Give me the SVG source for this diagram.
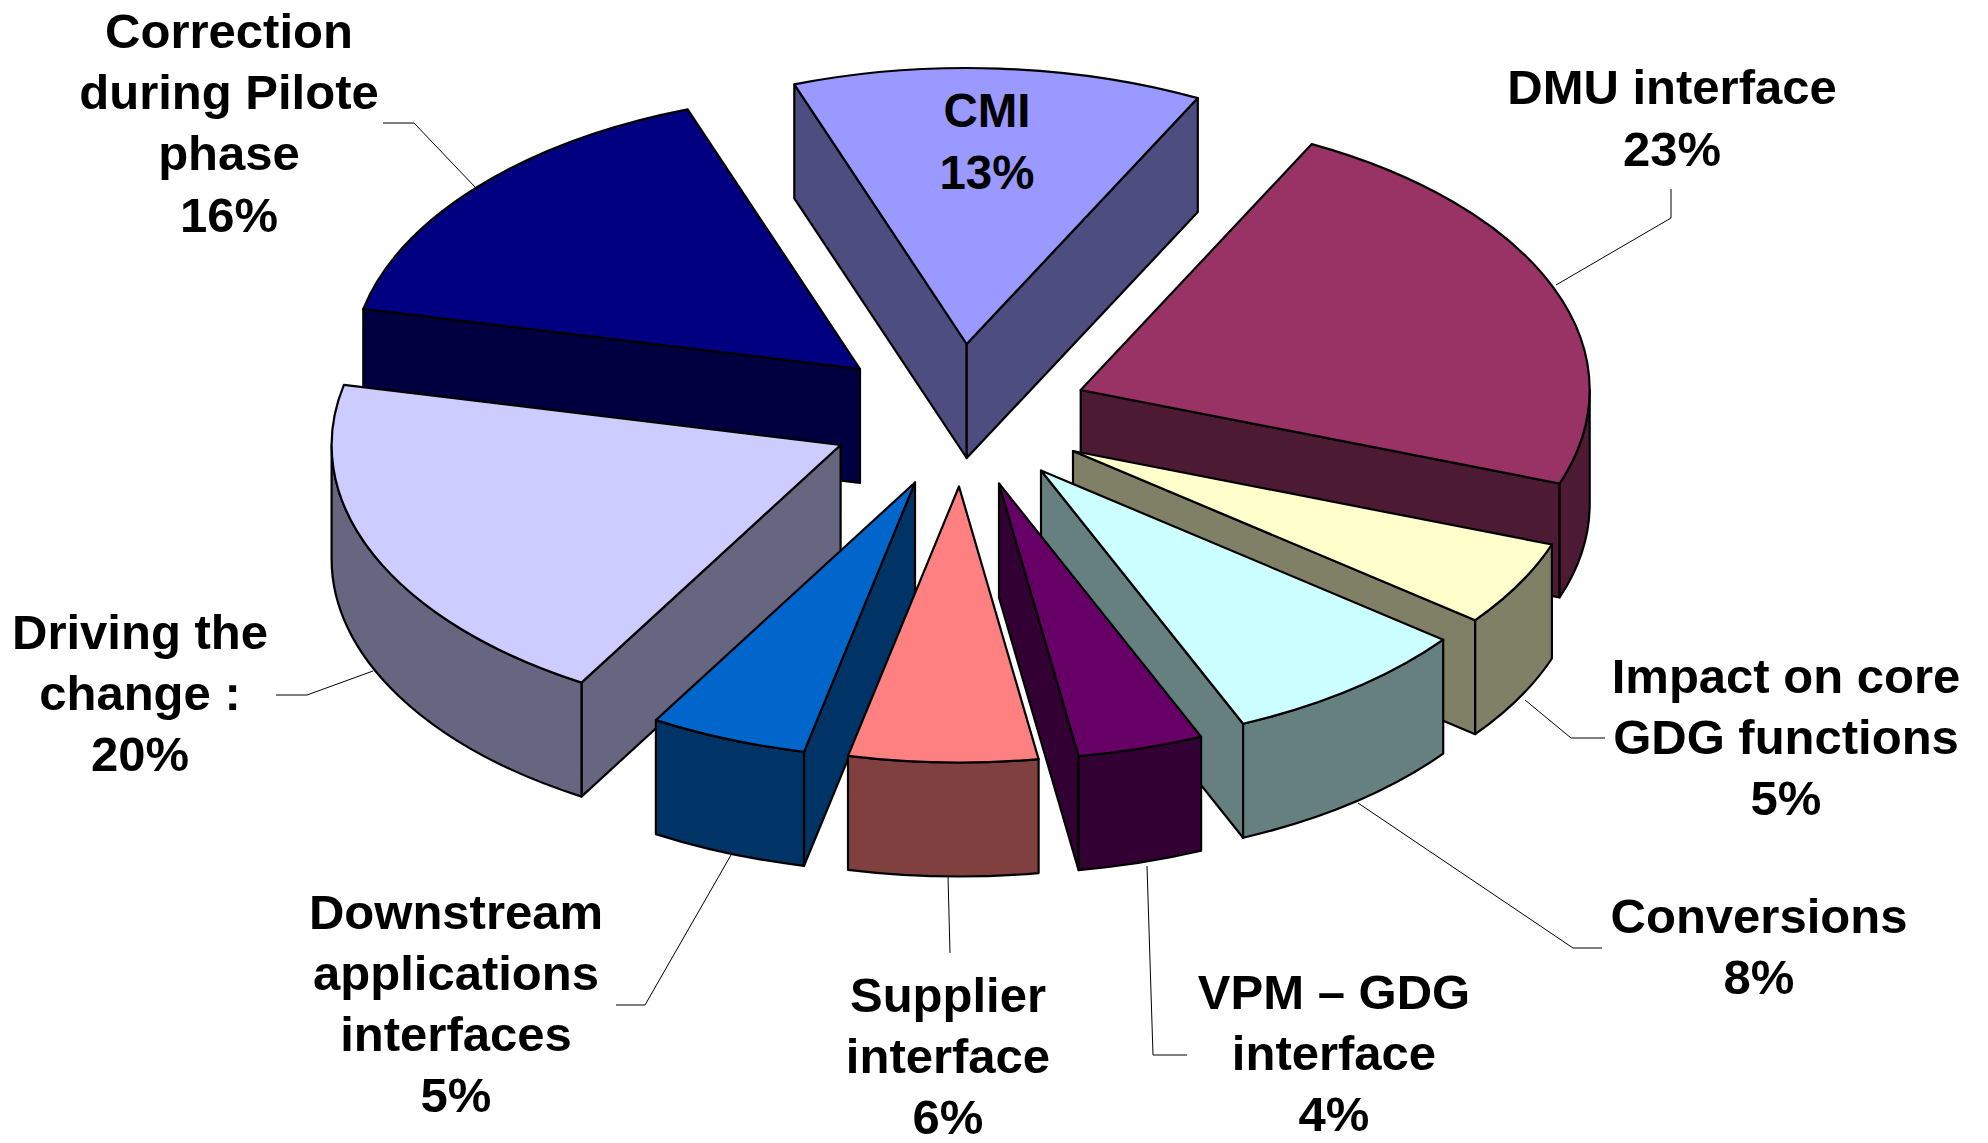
<svg xmlns="http://www.w3.org/2000/svg" width="1988" height="1143" viewBox="0 0 1988 1143">
<style>
path{stroke:#000;stroke-width:2.2;stroke-linejoin:round}
.lbl{font-family:"Liberation Sans",Arial,sans-serif;font-weight:bold;font-size:49px;fill:#000;text-anchor:middle}
.cmi{font-size:47.5px}
.lead{fill:none;stroke:#000;stroke-width:1}
</style>
<rect width="1988" height="1143" fill="#fff"/>
<g id="cmi">
<path d="M966.7,344 L794.3,84.3 L794.3,198.3 L966.7,458 Z" fill="#4D4D80"/>
<path d="M966.7,344 L1197.8,98.1 L1197.8,212.1 L966.7,458 Z" fill="#4D4D80"/>
<path d="M966.7,344 L794.3,84.3 A509,276 0 0 1 1197.8,98.1 Z" fill="#9999FF"/>
<text class="lbl cmi" x="987" y="127">CMI</text>
<text class="lbl cmi" x="987" y="189">13%</text>
</g>
<g id="correction">
<path d="M860,369 L363.3,308.8 L363.3,422.8 L860,483 Z" fill="#000040"/>
<path d="M860,369 L363.3,308.8 A509,276 0 0 1 687.6,109.3 Z" fill="#000080"/>
<text class="lbl" x="229" y="48">Correction</text>
<text class="lbl" x="229" y="109">during Pilote</text>
<text class="lbl" x="229" y="170">phase</text>
<text class="lbl" x="229" y="232">16%</text>
</g>
<g id="dmu">
<path d="M1080.7,390 L1559.6,483.5 L1559.6,597.5 L1080.7,504 Z" fill="#4D1A33"/>
<path d="M1589.7,390 A509,276 0 0 1 1559.6,483.5 L1559.6,597.5 A509,276 0 0 0 1589.7,504 Z" fill="#4D1A33"/>
<path d="M1080.7,390 L1311.8,144.1 A509,276 0 0 1 1559.6,483.5 Z" fill="#993366"/>
<text class="lbl" x="1672" y="104">DMU interface</text>
<text class="lbl" x="1672" y="166">23%</text>
</g>
<g id="impact">
<path d="M1073,451 L1475.2,620.2 L1475.2,734.2 L1073,565 Z" fill="#808066"/>
<path d="M1551.9,544.5 A509,276 0 0 1 1475.2,620.2 L1475.2,734.2 A509,276 0 0 0 1551.9,658.5 Z" fill="#808066"/>
<path d="M1073,451 L1551.9,544.5 A509,276 0 0 1 1475.2,620.2 Z" fill="#FFFFCC"/>
<text class="lbl" x="1786" y="693">Impact on core</text>
<text class="lbl" x="1786" y="754">GDG functions</text>
<text class="lbl" x="1786" y="815">5%</text>
</g>
<g id="conversions">
<path d="M1041,470.5 L1243.1,723.8 L1243.1,837.8 L1041,584.5 Z" fill="#668080"/>
<path d="M1443.2,639.7 A509,276 0 0 1 1243.1,723.8 L1243.1,837.8 A509,276 0 0 0 1443.2,753.7 Z" fill="#668080"/>
<path d="M1041,470.5 L1443.2,639.7 A509,276 0 0 1 1243.1,723.8 Z" fill="#CCFFFF"/>
<text class="lbl" x="1759" y="933">Conversions</text>
<text class="lbl" x="1759" y="994">8%</text>
</g>
<g id="driving">
<path d="M840.6,445 L581.5,682.6 L581.5,796.6 L840.6,559 Z" fill="#666680"/>
<path d="M581.5,682.6 A509,276 0 0 1 331.6,445 L331.6,559 A509,276 0 0 0 581.5,796.6 Z" fill="#666680"/>
<path d="M840.6,445 L581.5,682.6 A509,276 0 0 1 343.9,384.8 Z" fill="#CCCCFF"/>
<text class="lbl" x="140" y="649">Driving the</text>
<text class="lbl" x="140" y="710">change :</text>
<text class="lbl" x="140" y="771">20%</text>
</g>
<g id="vpm">
<path d="M999,483.5 L1078.6,756.1 L1078.6,870.1 L999,597.5 Z" fill="#330033"/>
<path d="M1201.1,736.8 A509,276 0 0 1 1078.6,756.1 L1078.6,870.1 A509,276 0 0 0 1201.1,850.8 Z" fill="#330033"/>
<path d="M999,483.5 L1201.1,736.8 A509,276 0 0 1 1078.6,756.1 Z" fill="#660066"/>
<text class="lbl" x="1334" y="1009">VPM – GDG</text>
<text class="lbl" x="1334" y="1070">interface</text>
<text class="lbl" x="1334" y="1131">4%</text>
</g>
<g id="downstream">
<path d="M915,482.5 L804,751.8 L804,865.8 L915,596.5 Z" fill="#003366"/>
<path d="M804,751.8 A509,276 0 0 1 655.9,720.1 L655.9,834.1 A509,276 0 0 0 804,865.8 Z" fill="#003366"/>
<path d="M915,482.5 L804,751.8 A509,276 0 0 1 655.9,720.1 Z" fill="#0066CC"/>
<text class="lbl" x="456" y="929">Downstream</text>
<text class="lbl" x="456" y="990">applications</text>
<text class="lbl" x="456" y="1051">interfaces</text>
<text class="lbl" x="456" y="1112">5%</text>
</g>
<g id="supplier">
<path d="M1038.6,759.1 A509,276 0 0 1 848,755.8 L848,869.8 A509,276 0 0 0 1038.6,873.1 Z" fill="#804040"/>
<path d="M959,486.5 L1038.6,759.1 A509,276 0 0 1 848,755.8 Z" fill="#FF8080"/>
<text class="lbl" x="948" y="1012">Supplier</text>
<text class="lbl" x="948" y="1073">interface</text>
<text class="lbl" x="948" y="1134">6%</text>
</g>
<g id="connectors">
<path class="lead" d="M383,123 L414,123 L475,187"/>
<path class="lead" d="M1671,189 L1671,218 L1556,285"/>
<path class="lead" d="M1605,738 L1571,738 L1525,700"/>
<path class="lead" d="M1602,948 L1573,948 L1358,803"/>
<path class="lead" d="M1187,1055 L1153,1055 L1147,866"/>
<path class="lead" d="M950,953 L948,876"/>
<path class="lead" d="M616,1005 L645,1005 L731,855"/>
<path class="lead" d="M276,695 L307,695 L373,671"/>
</g>
</svg>
